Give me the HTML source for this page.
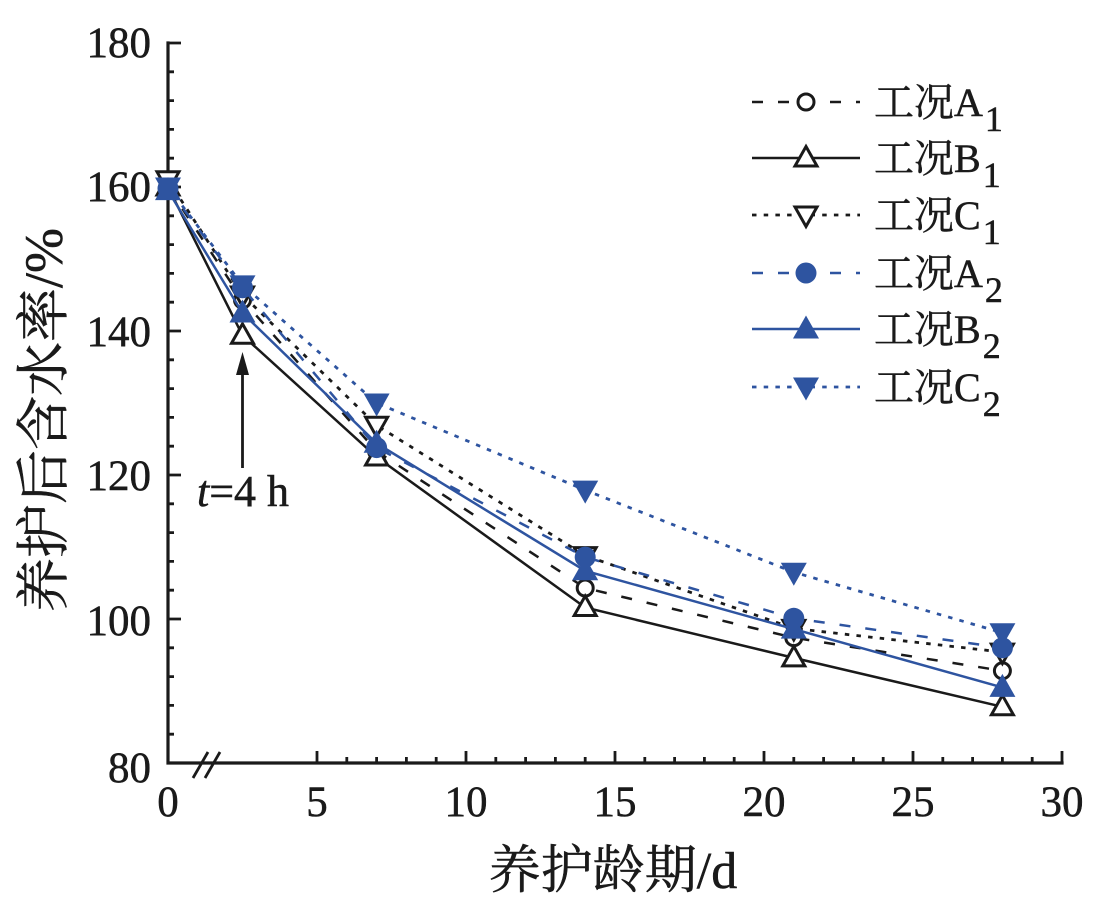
<!DOCTYPE html>
<html>
<head>
<meta charset="utf-8">
<style>
  html, body { margin: 0; padding: 0; background: #ffffff; }
  svg { display: block; }
  .num { font-family: "Liberation Serif", serif; font-size: 43px; fill: #1a1a1a; stroke: #1a1a1a; stroke-width: 0.5px; }
  .cjk { font-family: "Liberation Serif", "Noto Serif CJK SC", "Noto Sans CJK SC", serif; fill: #1a1a1a; stroke: #1a1a1a; stroke-width: 0.5px; }
</style>
</head>
<body>
<svg width="1095" height="903" viewBox="0 0 1095 903" xmlns="http://www.w3.org/2000/svg">
  <rect x="0" y="0" width="1095" height="903" fill="#ffffff"/>

  <!-- Axes -->
  <g stroke="#1a1a1a" fill="none" stroke-linecap="square">
    <path d="M168 43 L168 763 L1062 763" stroke-width="3.2"/>
  </g>
  <g stroke="#1a1a1a" stroke-width="2.8">
    <path d="M168 43 H181 M168 187 H181 M168 331 H181 M168 475 H181 M168 619 H181"/>
    <path d="M168 734.2 H174 M168 705.4 H174 M168 676.6 H174 M168 647.8 H174
             M168 590.2 H174 M168 561.4 H174 M168 532.6 H174 M168 503.8 H174
             M168 446.2 H174 M168 417.4 H174 M168 388.6 H174 M168 359.8 H174
             M168 302.2 H174 M168 273.4 H174 M168 244.6 H174 M168 215.8 H174
             M168 158.2 H174 M168 129.4 H174 M168 100.6 H174 M168 71.8 H174"/>
    <path d="M317 763 V751 M466 763 V751 M615 763 V751 M764 763 V751 M913 763 V751 M1062 763 V751"/>
    <path d="M346.8 763 V757 M376.6 763 V757 M406.4 763 V757 M436.2 763 V757
             M495.8 763 V757 M525.6 763 V757 M555.4 763 V757 M585.2 763 V757
             M644.8 763 V757 M674.6 763 V757 M704.4 763 V757 M734.2 763 V757
             M793.8 763 V757 M823.6 763 V757 M853.4 763 V757 M883.2 763 V757
             M942.8 763 V757 M972.6 763 V757 M1002.4 763 V757 M1032.2 763 V757"/>
    <path d="M193 778 L208 752 M205 778 L220 752"/>
  </g>

  <!-- Y tick labels -->
  <g class="num" text-anchor="end">
    <text x="151" y="57">180</text>
    <text x="151" y="201">160</text>
    <text x="151" y="346">140</text>
    <text x="151" y="490">120</text>
    <text x="151" y="635">100</text>
    <text x="151" y="782">80</text>
  </g>
  <!-- X tick labels -->
  <g class="num" text-anchor="middle">
    <text x="168" y="816">0</text>
    <text x="317" y="816">5</text>
    <text x="466" y="816">10</text>
    <text x="615" y="816">15</text>
    <text x="764" y="816">20</text>
    <text x="913" y="816">25</text>
    <text x="1062" y="816">30</text>
  </g>

  <!-- Axis titles -->
  <text class="cjk" x="613" y="888" font-size="52" text-anchor="middle">养护龄期/d</text>
  <text class="cjk" x="0" y="0" font-size="54" text-anchor="middle" transform="translate(62 420) rotate(-90)">养护后含水率/%</text>

  <!-- Annotation arrow -->
  <line x1="242.5" y1="468" x2="242.5" y2="368" stroke="#1a1a1a" stroke-width="2.8"/>
  <polygon points="242.5,352 236,375 249,375" fill="#1a1a1a"/>
  <text x="197" y="506" font-family="Liberation Serif, serif" font-size="44" fill="#1a1a1a" stroke="#1a1a1a" stroke-width="0.5"><tspan font-style="italic">t</tspan>=4 h</text>

  <defs>
    <g id="oc"><circle cx="0" cy="0" r="8" fill="#ffffff" stroke="#1a1a1a" stroke-width="3"/></g>
    <g id="otu"><polygon points="0,-11.5 11,8 -11,8" fill="#ffffff" stroke="#1a1a1a" stroke-width="3" stroke-linejoin="miter"/></g>
    <g id="otd"><polygon points="0,11.5 11,-8 -11,-8" fill="#ffffff" stroke="#1a1a1a" stroke-width="3" stroke-linejoin="miter"/></g>
    <g id="fc"><circle cx="0" cy="0" r="10.5" fill="#2e54a0"/></g>
    <g id="ftu"><polygon points="0,-13.5 13,9.5 -13,9.5" fill="#2e54a0"/></g>
    <g id="ftd"><polygon points="0,13.5 13,-9.5 -13,-9.5" fill="#2e54a0"/></g>
  </defs>

  <!-- Series A1 -->
  <polyline points="168,187 242.5,300 376.6,451.2 585.2,588 793.8,637.7 1002.4,670.8" fill="none" stroke="#1a1a1a" stroke-width="2.5" stroke-dasharray="11 15"/>
  <!-- Series B1 -->
  <polyline points="168,187 242.5,335.3 376.6,457 585.2,607.5 793.8,657.9 1002.4,706.8" fill="none" stroke="#1a1a1a" stroke-width="2.5"/>
  <!-- Series C1 -->
  <polyline points="168,179.8 242.5,295 376.6,425.3 585.2,555.6 793.8,628.4 1002.4,652.1" fill="none" stroke="#1a1a1a" stroke-width="2.8" stroke-dasharray="4.5 7.2"/>

  <use href="#oc" x="168" y="187"/><use href="#oc" x="242.5" y="300"/><use href="#oc" x="376.6" y="451.2"/><use href="#oc" x="585.2" y="588"/><use href="#oc" x="793.8" y="637.7"/><use href="#oc" x="1002.4" y="670.8"/>
  <use href="#otu" x="168" y="187"/><use href="#otu" x="242.5" y="335.3"/><use href="#otu" x="376.6" y="457"/><use href="#otu" x="585.2" y="607.5"/><use href="#otu" x="793.8" y="657.9"/><use href="#otu" x="1002.4" y="706.8"/>
  <use href="#otd" x="168" y="179.8"/><use href="#otd" x="242.5" y="295"/><use href="#otd" x="376.6" y="425.3"/><use href="#otd" x="585.2" y="555.6"/><use href="#otd" x="793.8" y="628.4"/><use href="#otd" x="1002.4" y="652.1"/>

  <!-- Series A2 -->
  <polyline points="168,188.4 242.5,287.8 376.6,447.6 585.2,557.1 793.8,618.3 1002.4,647.8" fill="none" stroke="#2e54a0" stroke-width="2.5" stroke-dasharray="11 15"/>
  <!-- Series B2 -->
  <polyline points="168,190.6 242.5,313 376.6,443.3 585.2,570.8 793.8,629.1 1002.4,687.4" fill="none" stroke="#2e54a0" stroke-width="2.5"/>
  <!-- Series C2 -->
  <polyline points="168,187 242.5,284.9 376.6,403 585.2,490.1 793.8,572.2 1002.4,632.7" fill="none" stroke="#2e54a0" stroke-width="2.8" stroke-dasharray="4.5 7.2"/>

  <use href="#fc" x="168" y="188.4"/><use href="#fc" x="242.5" y="287.8"/><use href="#fc" x="376.6" y="447.6"/><use href="#fc" x="585.2" y="557.1"/><use href="#fc" x="793.8" y="618.3"/><use href="#fc" x="1002.4" y="647.8"/>
  <use href="#ftu" x="168" y="190.6"/><use href="#ftu" x="242.5" y="313"/><use href="#ftu" x="376.6" y="443.3"/><use href="#ftu" x="585.2" y="570.8"/><use href="#ftu" x="793.8" y="629.1"/><use href="#ftu" x="1002.4" y="687.4"/>
  <use href="#ftd" x="168" y="187"/><use href="#ftd" x="242.5" y="284.9"/><use href="#ftd" x="376.6" y="403"/><use href="#ftd" x="585.2" y="490.1"/><use href="#ftd" x="793.8" y="572.2"/><use href="#ftd" x="1002.4" y="632.7"/>

  <!-- Legend -->
  <g>
    <line x1="752" y1="102" x2="860" y2="102" stroke="#1a1a1a" stroke-width="2.5" stroke-dasharray="11 15"/>
    <use href="#oc" x="806" y="102"/>
    <line x1="752" y1="158" x2="860" y2="158" stroke="#1a1a1a" stroke-width="2.5"/>
    <use href="#otu" x="806" y="158"/>
    <line x1="752" y1="215" x2="860" y2="215" stroke="#1a1a1a" stroke-width="2.8" stroke-dasharray="4.5 7.2"/>
    <use href="#otd" x="806" y="215"/>
    <line x1="752" y1="273" x2="860" y2="273" stroke="#2e54a0" stroke-width="2.5" stroke-dasharray="11 15"/>
    <use href="#fc" x="806" y="273"/>
    <line x1="752" y1="329" x2="860" y2="329" stroke="#2e54a0" stroke-width="2.5"/>
    <use href="#ftu" x="806" y="329"/>
    <line x1="752" y1="387" x2="860" y2="387" stroke="#2e54a0" stroke-width="2.8" stroke-dasharray="4.5 7.2"/>
    <use href="#ftd" x="806" y="387"/>
  </g>
  <g class="cjk" font-size="40">
    <text x="874" y="116">工况A<tspan font-size="36" dx="2" dy="15">1</tspan></text>
    <text x="874" y="172">工况B<tspan font-size="36" dx="2" dy="15">1</tspan></text>
    <text x="874" y="229">工况C<tspan font-size="36" dx="2" dy="15">1</tspan></text>
    <text x="874" y="287">工况A<tspan font-size="36" dx="2" dy="15">2</tspan></text>
    <text x="874" y="343">工况B<tspan font-size="36" dx="2" dy="15">2</tspan></text>
    <text x="874" y="401">工况C<tspan font-size="36" dx="2" dy="15">2</tspan></text>
  </g>
</svg>
</body>
</html>
